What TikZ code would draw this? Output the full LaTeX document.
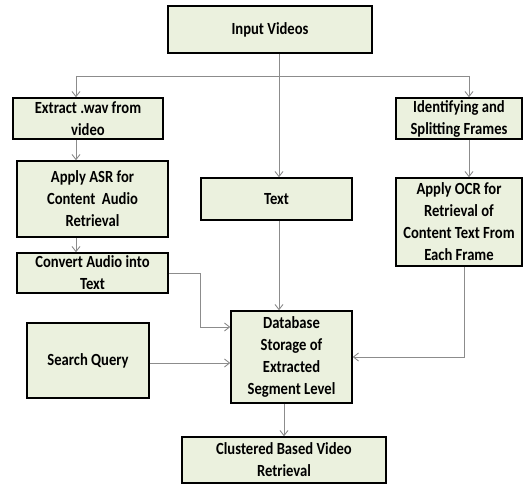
\documentclass[tikz,border=0pt]{standalone}
\usepackage{fontspec}
\setmainfont{Carlito}[FakeStretch=0.86]
\usetikzlibrary{arrows.meta}
\definecolor{boxfill}{HTML}{EBF1DE}
\definecolor{linegray}{HTML}{8C8C8C}
\tikzset{
  box/.style={draw=black, line width=1.6pt, fill=boxfill, inner sep=0pt, align=center,
    font=\fontsize{17}{22}\selectfont\bfseries},
  arr/.style={draw=linegray, line width=0.9pt, -{Straight Barb[length=5pt,width=8pt]}},
  ln/.style={draw=linegray, line width=0.9pt}
}
\begin{document}
\begin{tikzpicture}[x=1pt,y=-1pt]
\useasboundingbox (0,0) rectangle (523,484);
\node[box, minimum width=204pt, minimum height=47pt] (in) at (270,29.5) {Input Videos};
\node[box, minimum width=150pt, minimum height=41pt] (wav) at (88,118.5) {Extract .wav from\\video};
\node[box, minimum width=126pt, minimum height=41pt] (ident) at (459,118.5) {Identifying and\\Splitting Frames};
\node[box, minimum width=151pt, minimum height=76pt] (asr) at (92.5,199) {Apply ASR for\\Content\ \ Audio\\Retrieval};
\node[box, minimum width=151pt, minimum height=42pt] (text) at (276.5,199) {Text};
\node[box, minimum width=126pt, minimum height=88pt] (ocr) at (459,222) {Apply OCR for\\Retrieval of\\Content Text From\\Each Frame};
\node[box, minimum width=151pt, minimum height=40pt] (conv) at (92.5,273) {Convert Audio into\\Text};
\node[box, minimum width=121pt, minimum height=92pt] (db) at (291.5,357) {Database\\Storage of\\Extracted\\Segment Level};
\node[box, minimum width=122pt, minimum height=75pt] (sq) at (88,360.5) {Search Query};
\node[box, minimum width=204pt, minimum height=46pt] (cl) at (284,460) {Clustered Based Video\\Retrieval};
% connectors
\coordinate (jl) at (76,76);
\coordinate (jm) at (279,76);
\coordinate (jr) at (469,76);
\draw[arr] (in.south -| jm) -- (text.north -| jm);
\draw[ln] (jl) -- (jr);
\draw[arr] (jl) -- (wav.north -| jl);
\draw[arr] (jr) -- (ident.north -| jr);
\draw[arr] (wav.south -| jl) -- (asr.north -| jl);
\draw[arr] (asr.south -| jl) -- (conv.north -| jl);
\draw[arr] (ident.south -| jr) -- (ocr.north -| jr);
\draw[arr] (text.south -| jm) -- (db.north -| jm);
\coordinate (cb) at (200,327);
\draw[arr] (conv.east) -- (conv.east -| cb) -- (cb) -- (cb -| db.west);
\coordinate (ob) at (464,357);
\draw[arr] (ocr.south -| ob) -- (ob) -- (ob -| db.east);
\draw[arr] (sq.east |- 0,363) -- (db.west |- 0,363);
\coordinate (dc) at (284,403);
\draw[arr] (db.south -| dc) -- (cl.north -| dc);
\end{tikzpicture}
\end{document}
